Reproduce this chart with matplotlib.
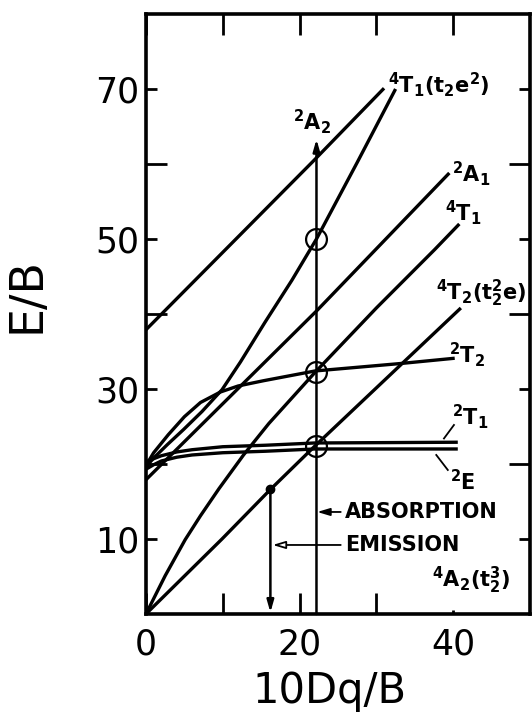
import numpy as np
import matplotlib
matplotlib.use('Agg')
import matplotlib.pyplot as plt

plt.rcParams['font.family'] = 'DejaVu Sans'
plt.rcParams['mathtext.default'] = 'regular'

# E/B against 10Dq/B
t1p_hi_x = [0, 21.7, 31.0]
t1p_hi_y = [37.9, 60.3, 70.1]
t1p_x = [0, 1.0, 2.8, 4.9, 7.3, 9.9, 12.3, 15.5, 19.0, 22.2, 27.5, 32.5]
t1p_y = [19.6, 20.8, 22.6, 24.6, 27.0, 29.9, 33.6, 38.9, 44.5, 50.0, 60.2, 70.0]
a1_x = [0, 22.3, 39.5]
a1_y = [17.9, 40.5, 58.8]
t1f_x = [0, 2.5, 5.1, 7.1, 9.5, 12.7, 16.0, 22.0, 30.0, 37.6, 40.8]
t1f_y = [0, 5.1, 9.9, 13.1, 16.7, 21.2, 25.4, 32.2, 40.8, 48.6, 52.0]
t2q_x = [0, 9.9, 16.2, 22.0, 41.0]
t2q_y = [0, 10.0, 16.6, 22.4, 40.8]
t2d_x = [0, 1.0, 2.9, 5.0, 7.1, 9.7, 12.0, 15.3, 22.0, 33.2, 40.2]
t2d_y = [19.8, 21.5, 23.9, 26.3, 28.2, 29.6, 30.4, 31.1, 32.4, 33.4, 34.1]
t1d_x = [0, 1.0, 2.0, 4.0, 6.0, 10.0, 15.6, 22.0, 40.6]
t1d_y = [20.3, 20.7, 21.1, 21.6, 21.9, 22.3, 22.5, 22.8, 22.9]
e_x = [0, 1.0, 2.0, 4.0, 6.0, 10.0, 15.6, 22.0, 40.6]
e_y = [19.3, 19.9, 20.4, 20.9, 21.2, 21.5, 21.7, 22.0, 22.0]

abs_x = 22.2          # absorption line
abs_top = 63.3
circ_y = [50.0, 32.3, 22.4]
emit_x, emit_y = 16.2, 16.6

fig = plt.figure(figsize=(5.32, 7.14), dpi=100)
ax = fig.add_axes([0.2744, 0.1401, 0.7218, 0.8403])

lw = 2.4
for xs, ys in [(t1p_hi_x, t1p_hi_y), (t1p_x, t1p_y), (a1_x, a1_y),
               (t1f_x, t1f_y), (t2q_x, t2q_y), (t2d_x, t2d_y),
               (t1d_x, t1d_y), (e_x, e_y)]:
    ax.plot(xs, ys, color='black', lw=lw, solid_capstyle='butt',
            solid_joinstyle='round')

ax.plot([abs_x] * len(circ_y), circ_y, 'o', ms=15, mfc='none', mec='black', mew=1.6)
ax.plot([emit_x], [emit_y], 'o', ms=6, color='black')

ax.annotate('', xy=(abs_x, abs_top), xytext=(abs_x, 0),
            arrowprops=dict(arrowstyle='-|>,head_length=0.7,head_width=0.2',
                            lw=1.8, color='black', shrinkA=0, shrinkB=0))
ax.annotate('', xy=(emit_x, 0.2), xytext=(emit_x, emit_y),
            arrowprops=dict(arrowstyle='-|>,head_length=0.7,head_width=0.2',
                            lw=1.8, color='black', shrinkA=0, shrinkB=0))

lab = dict(fontsize=15, fontweight='bold')
ax.annotate('ABSORPTION', xy=(abs_x + 0.1, 13.6), xytext=(25.9, 13.6),
            va='center', ha='left', **lab,
            arrowprops=dict(arrowstyle='-|>,head_length=0.5,head_width=0.15',
                            lw=1.3, color='black', shrinkA=1, shrinkB=0))
ax.annotate('EMISSION', xy=(emit_x + 0.3, 9.2), xytext=(25.9, 9.2),
            va='center', ha='left', **lab,
            arrowprops=dict(arrowstyle='-|>,head_length=0.5,head_width=0.15',
                            lw=1.3, color='black', fc='white', shrinkA=1, shrinkB=0))

ax.text(21.6, 64.6, r'$^2$A$_2$', ha='center', va='baseline', **lab)
ax.text(31.5, 69.5, r'$^4$T$_1$(t$_2$e$^2$)', ha='left', va='baseline', **lab)
ax.text(39.9, 57.6, r'$^2$A$_1$', ha='left', va='baseline', **lab)
ax.text(39.0, 52.5, r'$^4$T$_1$', ha='left', va='baseline', **lab)
ax.text(37.7, 41.9, r'$^4$T$_2$(t$_2^2$e)', ha='left', va='baseline', **lab)
ax.text(39.5, 33.5, r'$^2$T$_2$', ha='left', va='baseline', **lab)
ax.text(39.8, 25.2, r'$^2$T$_1$', ha='left', va='baseline', **lab)
ax.text(39.6, 16.5, r'$^2$E', ha='left', va='baseline', **lab)
ax.text(37.3, 3.6, r'$^4$A$_2$(t$_2^3$)', ha='left', va='baseline', **lab)
ax.plot([38.8, 40.1], [23.4, 25.2], color='black', lw=1.3)
ax.plot([37.8, 39.3], [21.2, 19.2], color='black', lw=1.3)

ax.set_xlim(0, 50)
ax.set_ylim(0, 80)
ax.set_xticks([0, 10, 20, 30, 40], ['0', '', '20', '', '40'])
ax.set_yticks([10, 30, 50, 70])
ax.set_yticks([20, 40, 60], minor=True)
ax.tick_params(axis='x', which='major', direction='in', top=True, length=15,
               width=2, labelsize=25, pad=10)
ax.tick_params(axis='x', which='minor', bottom=False, top=False)
ax.tick_params(axis='y', which='major', direction='in', right=True, length=8,
               width=2, labelsize=25, pad=5)
ax.tick_params(axis='y', which='minor', direction='in', right=True, length=15, width=2)
ax.xaxis.get_major_ticks()[4].tick1line.set_markersize(3)
for s in ax.spines.values():
    s.set_linewidth(2.6)

ax.set_xlabel('10Dq/B', fontsize=30)
ax.xaxis.set_label_coords(0.479, -0.093)
ax.set_ylabel('E/B', fontsize=33)
ax.yaxis.set_label_coords(-0.25, 0.532)

fig.savefig('out.png', dpi=100)
